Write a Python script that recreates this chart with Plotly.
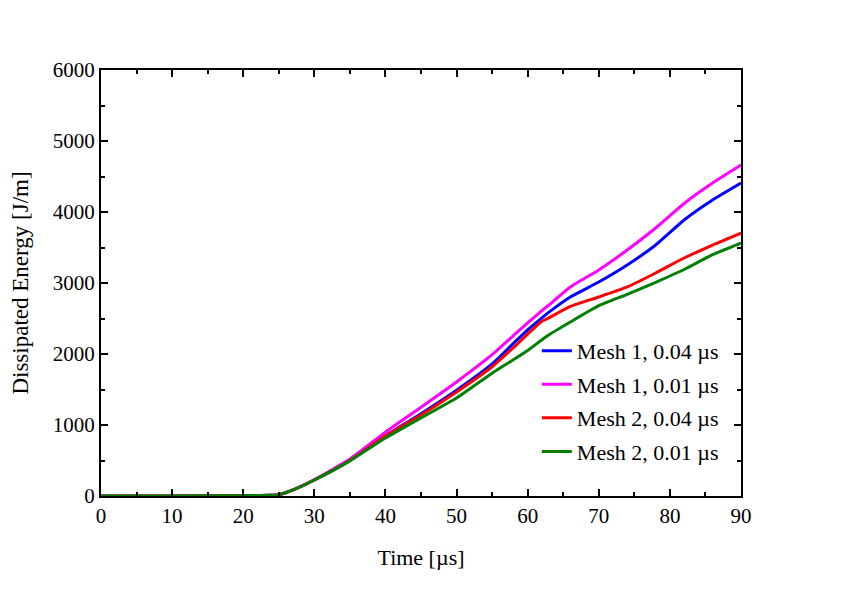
import plotly.graph_objects as go

# time axis samples [us]
time_us = [0, 10, 20, 24, 25, 27, 30, 35, 40, 45, 50, 55, 58, 60, 62, 63, 66, 70, 74, 78, 82, 86, 90]

# dissipated energy [J/m]
mesh1_004 = [0, 0, 5, 10, 18, 85, 225, 500, 850, 1160, 1490, 1860, 2150, 2340, 2510, 2590, 2803, 3014, 3254, 3535, 3887, 4169, 4408]
mesh1_001 = [0, 0, 5, 10, 18, 85, 230, 520, 900, 1250, 1606, 1990, 2260, 2440, 2610, 2690, 2944, 3183, 3465, 3775, 4120, 4408, 4662]
mesh2_004 = [0, 0, 5, 10, 18, 85, 225, 500, 845, 1140, 1465, 1820, 2090, 2280, 2460, 2510, 2670, 2803, 2944, 3141, 3352, 3535, 3704]
mesh2_001 = [0, 0, 5, 10, 18, 85, 225, 495, 817, 1100, 1380, 1730, 1920, 2050, 2200, 2270, 2450, 2680, 2840, 3010, 3190, 3400, 3563]

series = [
    ("Mesh 1, 0.04 \u00b5s", mesh1_004, "#0000FF"),
    ("Mesh 1, 0.01 \u00b5s", mesh1_001, "#FF00FF"),
    ("Mesh 2, 0.04 \u00b5s", mesh2_004, "#FF0000"),
    ("Mesh 2, 0.01 \u00b5s", mesh2_001, "#008000"),
]

FONT = "Liberation Serif"

fig = go.Figure()
for i, (name, vals, col) in enumerate(series):
    fig.add_trace(go.Scatter(x=time_us, y=vals, name=name, mode="lines",
                             line=dict(color=col, width=3, shape="spline", smoothing=0.5),
                             legendgroup=str(i)))

tick_style = dict(ticks="inside", ticklen=7, tickwidth=1.5, tickcolor="black",
                  showgrid=False, zeroline=False)
x_minor = dict(dtick=5, ticks="inside", ticklen=4, tickwidth=1.5, tickcolor="black")
y_minor = dict(dtick=500, ticks="inside", ticklen=4, tickwidth=1.5, tickcolor="black")

fig.update_layout(
    xaxis=dict(range=[0, 90], dtick=10, tick0=0, minor=x_minor,
               showline=True, linecolor="black", linewidth=2, mirror=True,
               tickfont=dict(family=FONT, size=21, color="black"),
               title=dict(text="Time [\u00b5s]", font=dict(family=FONT, size=22, color="black"), standoff=22),
               **tick_style),
    yaxis=dict(range=[0, 6000], dtick=1000, tick0=0, minor=y_minor,
               showline=True, linecolor="black", linewidth=2, mirror=True,
               tickfont=dict(family=FONT, size=21, color="black"),
               title=dict(text="Dissipated Energy [J/m]", font=dict(family=FONT, size=23, color="black"), standoff=18),
               **tick_style),
    # top / right axes only carry the mirrored ticks
    xaxis2=dict(range=[0, 90], dtick=10, tick0=0, minor=x_minor, overlaying="x", side="top",
                showticklabels=False, showline=False, **tick_style),
    yaxis2=dict(range=[0, 6000], dtick=1000, tick0=0, minor=y_minor, overlaying="y", side="right",
                showticklabels=False, showline=False, **tick_style),
)

# invisible trace so the top/right axes get drawn
fig.add_trace(go.Scatter(x=[0], y=[0], xaxis="x2", yaxis="y2", mode="markers",
                         marker=dict(opacity=0), showlegend=False, hoverinfo="skip"))

fig.update_layout(
    width=842, height=596,
    margin=dict(l=93, r=109, t=62, b=108),
    plot_bgcolor="white", paper_bgcolor="white",
    font=dict(family=FONT, size=21, color="black"),
    legend=dict(x=0.681, y=0.39, xanchor="left", yanchor="top",
                bgcolor="rgba(0,0,0,0)", borderwidth=0,
                tracegroupgap=2, font=dict(family=FONT, size=22)),
)

fig.write_html("out.html")
